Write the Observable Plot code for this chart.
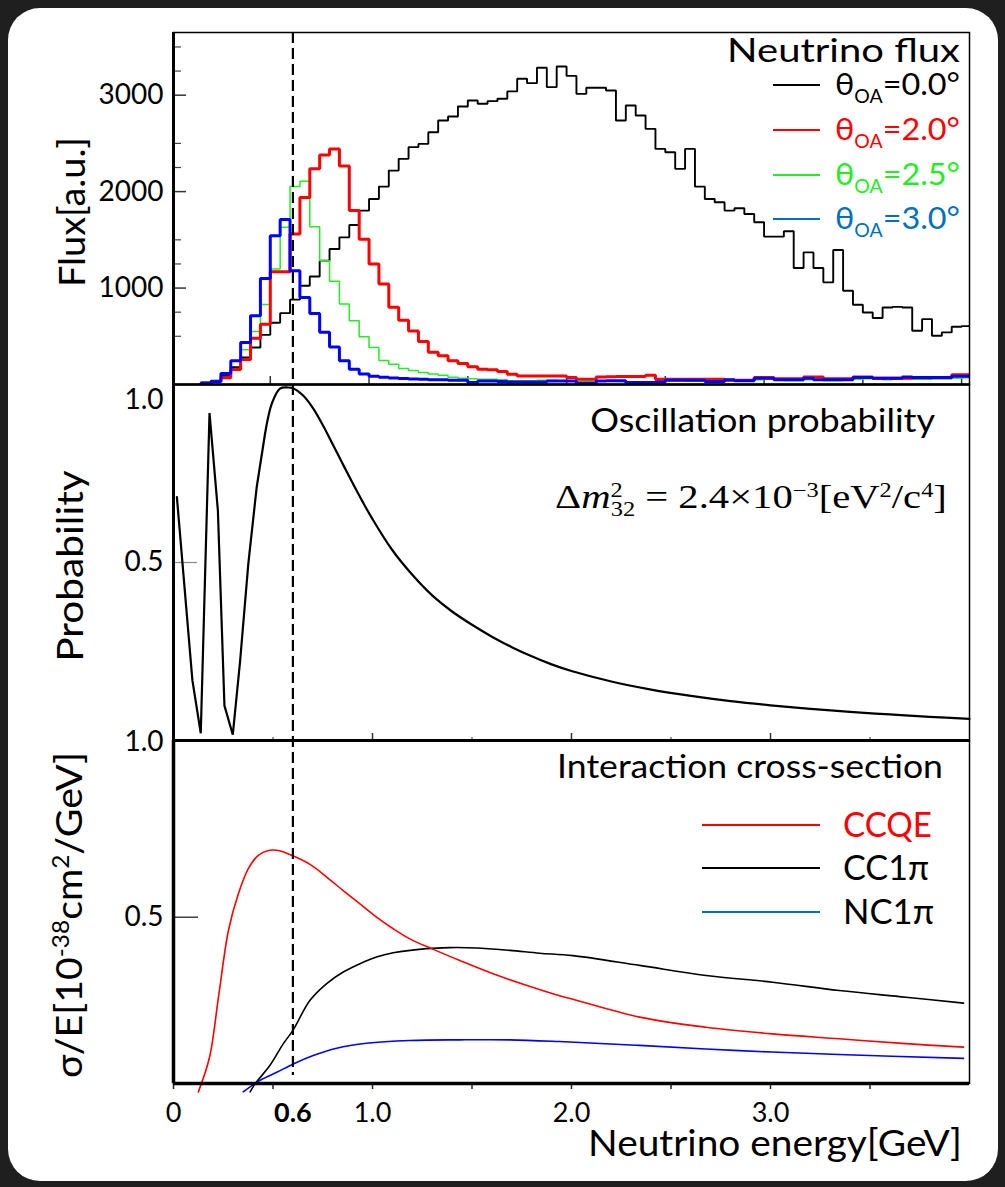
<!DOCTYPE html>
<html><head><meta charset="utf-8">
<script src="https://cdn.jsdelivr.net/npm/d3@7"></script>
<script src="https://cdn.jsdelivr.net/npm/@observablehq/plot@0.6"></script>
<style>
html,body{margin:0;padding:0;width:1005px;height:1187px;overflow:hidden;background:#1f1f1f;}
#card{position:absolute;left:8px;top:8px;width:990px;height:1173px;background:#fff;border-radius:32px;}
#stage{position:absolute;left:0;top:0;width:1005px;height:1187px;}
#stage svg{position:absolute;left:0;top:0;}
</style></head><body>
<div id="card"></div>
<div id="stage"></div>
<script>
// ================= DATA =================
// Top panel: neutrino flux histograms, bins of 0.05 GeV starting at 0.15 GeV
const binWidth = 0.05;
const binStart = 0.15;
const fluxTheta00 = [20,40,90,180,280,384,515, 640,740,880,1024,1120,1284,1405,1526,1654,1803, 1924,2052,2218,2340,2461,2495,2616,2738,2779,2883, 2945,2911,2938,2963,3039,3170,3125,3284,3084,3298, 3200,3014,3077,3077,3049,2738,2893,2789,2651,2443, 2409,2236,2443,2052,1924,1890,1803,1827,1768,1682, 1533,1533,1589,1208,1370,1208,1059,1395,972,827, 747,689,799,805,799,557,678,505,540,599,605];
const fluxTheta20 = [10,30,70,155,260,480,626, 1170,1170,1560,1940,2236,2380,2443,2265,1803,1505, 1249,1042,800,665,556,445,335,297,245,217, 183,158,152,134,107,89,89,89,89,89, 72,55,55,79,80,83,83,83,97,55, 55,55,55,55,55,55,45,45,45,72, 72,60,60,60,79,79,60,60,60,79, 79,65,65,65,65,70,70,70,70,100,100];
const fluxTheta25 = [12,35,107,246,360,550,830, 1197,1630,2052,2108,1637,1284,1070,834,661,495, 383,250,210,165,145,125,110,95,75,65, 60,55,55,50,40,40,40,45,45,40, 40,30,30,40,35,30,25,20,25,30, 40,40,35,35,30,35,40,35,35,50, 55,45,40,40,50,45,40,40,45,55, 60,55,50,55,60,55,55,60,60,65,70];
const fluxTheta30 = [14,32,114,245,435,712,1100, 1543,1710,1180,903,735,543,390,245,158,110, 85,75,68,62,58,55,50,48,44,44, 20,37,37,30,27,27,27,27,37,37, 37,13,13,37,38,38,20,20,20,27, 45,45,45,45,31,31,48,38,38,65, 65,48,48,48,65,48,48,48,48,72, 72,65,65,65,79,72,72,72,72,85,85];
const offAxisAngles = ["0.0", "2.0", "2.5", "3.0"];
const fluxLabelTicks = [1000, 2000, 3000];
const fluxMinorTicks = [500, 750, 1250, 1500, 2250, 2500, 3250, 3500];

// Middle panel: oscillation probability
const probEnergy = [0.017,0.095,0.137,0.181,0.223,0.256,0.298,0.335,0.376,0.418,0.46,0.494,0.535,0.577,0.6,0.65,0.7,0.75,0.8,0.85,0.9,0.95,1.0,1.1,1.2,1.3,1.4,1.5,1.6,1.7,1.8,1.9,2.0,2.2,2.4,2.6,2.8,3.0,3.2,3.4,3.6,3.8,4.0];
const probValue  = [0.687,0.163,0.012,0.927,0.649,0.091,0.008,0.22,0.497,0.715,0.868,0.954,0.997,1.0,0.998,0.978,0.942,0.893,0.838,0.782,0.727,0.674,0.624,0.535,0.465,0.406,0.36,0.322,0.288,0.258,0.232,0.209,0.19,0.16,0.137,0.119,0.104,0.092,0.082,0.073,0.066,0.059,0.053];
const probLabelTicks = [0.5];
const probTopLabel = [1.0];

// Bottom panel: interaction cross-sections
const ccqeEnergy = [0.125,0.181,0.226,0.276,0.326,0.376,0.426,0.477,0.527,0.594,0.686,0.77,0.853,0.937,1.02,1.104,1.188,1.297,1.439,1.606,1.773,1.94,2.007,2.342,2.676,3.01,3.345,3.68,3.97];
const ccqeXsec   = [0.0,0.099,0.271,0.462,0.567,0.639,0.677,0.691,0.691,0.677,0.651,0.615,0.576,0.538,0.5,0.467,0.438,0.41,0.376,0.338,0.305,0.275,0.265,0.214,0.185,0.166,0.152,0.138,0.128];
const cc1piEnergy = [0.385,0.41,0.485,0.552,0.6,0.686,0.77,0.853,0.937,1.02,1.104,1.271,1.388,1.522,1.69,1.84,2.007,2.342,2.676,3.01,3.345,3.68,3.97];
const cc1piXsec   = [0.0,0.023,0.076,0.138,0.176,0.262,0.31,0.343,0.367,0.386,0.398,0.41,0.413,0.412,0.405,0.397,0.39,0.362,0.333,0.314,0.29,0.271,0.254];
const nc1piEnergy = [0.35,0.435,0.519,0.602,0.702,0.82,0.97,1.188,1.439,1.69,1.94,2.342,2.843,3.345,3.97];
const nc1piXsec   = [0.0,0.033,0.056,0.08,0.104,0.125,0.139,0.147,0.149,0.149,0.144,0.133,0.118,0.107,0.096];
const xsecNames = ["CCQE", "CC1π", "NC1π"];
const xsecLabelTicks = [0.5, 1.0];

// Shared energy axis
const energyLabelTicks = [0, 1, 2, 3];
const energyTicks = [0, 0.5, 1, 1.5, 2, 2.5, 3, 3.5];
const markedEnergy = 0.6;

// ================= LAYOUT / STYLE =================
const W = 1005, H = 1187, ML = 173, MR = 36, PW = W - ML - MR;
const LATO = "Lato, 'Open Sans', sans-serif";
const SERIF = "'Liberation Serif', 'DejaVu Serif', serif";
const baseStyle = {background: "transparent", fontFamily: LATO, fontSize: "28px", color: "#000", overflow: "visible"};
const stage = document.getElementById("stage");

function stepRows(values) {
  const rows = values.map((v, i) => ({E: binStart + i * binWidth, flux: v}));
  rows.push({E: binStart + values.length * binWidth, flux: values[values.length - 1]});
  return rows;
}
const zipRows = (xs, ys) => xs.map((x, i) => ({E: x, v: ys[i]}));

// ---------- top panel ----------
const topTop = 32, topBottom = 384, topH = topBottom - topTop;
const topXDomain = [0.01, 4.04];
const histStyle = [
  {vals: fluxTheta00, stroke: "#000000", w: 1.9},
  {vals: fluxTheta25, stroke: "#22ee22", w: 1.5},
  {vals: fluxTheta20, stroke: "#ff0000", w: 3},
  {vals: fluxTheta30, stroke: "#0000ff", w: 3}
];
stage.append(Plot.plot({
  width: W, height: H, marginLeft: ML, marginRight: MR, marginTop: topTop, marginBottom: H - topBottom,
  x: {domain: topXDomain, axis: null},
  y: {domain: [0, 3650]},
  style: baseStyle,
  marks: [
    Plot.tickY(fluxMinorTicks, {y: d => d, insetRight: PW - 8, stroke: "#444", strokeWidth: 1.2}),
    Plot.tickY(fluxLabelTicks, {y: d => d, insetRight: PW - 13, stroke: "#333", strokeWidth: 1.5}),
    Plot.axisY({ticks: fluxLabelTicks, tickSize: 0, tickPadding: 10, tickFormat: d => String(d), fontSize: 28, label: null}),
    Plot.tickX(energyTicks.slice(1).concat([4]), {x: d => d, insetTop: topH - 8, stroke: "#333", strokeWidth: 1.5}),
    ...histStyle.map(s => Plot.line(stepRows(s.vals), {x: "E", y: "flux", curve: "step-after", stroke: s.stroke, strokeWidth: s.w, strokeLinejoin: "miter", clip: true})),
    Plot.frame({stroke: "#000", strokeWidth: 1.5}),
    Plot.ruleX([topXDomain[0]], {stroke: "#000", strokeWidth: 3}),
    Plot.ruleY([0], {stroke: "#000", strokeWidth: 2.5})
  ]
}));

// ---------- middle panel ----------
const midTop = 384, midBottom = 740, midH = midBottom - midTop;
const probRows = zipRows(probEnergy, probValue);
const smoothFrom = 0.46;
stage.append(Plot.plot({
  width: W, height: H, marginLeft: ML, marginRight: MR, marginTop: midTop, marginBottom: H - midBottom,
  x: {domain: [0, 4], axis: null},
  y: {domain: [-0.0086, 1.0086]},
  style: baseStyle,
  marks: [
    Plot.tickY(probLabelTicks, {y: d => d, insetRight: PW - 24, stroke: "#888", strokeWidth: 1.2}),
    Plot.axisY({ticks: probLabelTicks, tickSize: 0, tickPadding: 10, tickFormat: d => d.toFixed(1), fontSize: 28, label: null}),
    Plot.axisY({ticks: probTopLabel, tickSize: 0, tickPadding: 10, tickFormat: d => d.toFixed(1), fontSize: 28, dy: 13, label: null}),
    Plot.tickX(energyTicks.filter(d => d % 1 !== 0), {x: d => d, insetTop: midH - 3, stroke: "#555", strokeWidth: 1.2}),
    Plot.tickX(energyTicks.filter(d => d % 1 === 0 && d > 0), {x: d => d, insetTop: midH - 7, stroke: "#333", strokeWidth: 1.5}),
    Plot.line(probRows.filter(d => d.E <= smoothFrom), {x: "E", y: "v", stroke: "#000", strokeWidth: 2.2, strokeLinejoin: "miter"}),
    Plot.line(probRows.filter(d => d.E >= smoothFrom), {x: "E", y: "v", stroke: "#000", strokeWidth: 2.2, curve: "catmull-rom"}),
    Plot.frame({stroke: "#000", strokeWidth: 1.5}),
    Plot.ruleX([0], {stroke: "#000", strokeWidth: 3}),
    Plot.ruleY([-0.0086], {stroke: "#000", strokeWidth: 3})
  ]
}));

// ---------- bottom panel ----------
const botTop = 740, botBottom = 1083;
const botYDomain = [0.024, 1.0057];
stage.append(Plot.plot({
  width: W, height: H, marginLeft: ML, marginRight: MR, marginTop: botTop, marginBottom: H - botBottom,
  x: {domain: [0, 4]},
  y: {domain: botYDomain},
  style: baseStyle,
  marks: [
    Plot.tickY([0.5], {y: d => d, insetRight: PW - 25, stroke: "#222", strokeWidth: 1.3}),
    Plot.axisY({ticks: xsecLabelTicks, tickSize: 0, tickPadding: 10, tickFormat: d => d.toFixed(1), fontSize: 28, label: null}),
    Plot.axisX({ticks: energyTicks, tickSize: 6, fill: "none", stroke: "#222", strokeWidth: 1.5, label: null}),
    Plot.axisX({ticks: energyLabelTicks, tickSize: 0, tickPadding: 19, fontSize: 27, tickFormat: d => d === 0 ? "0" : d.toFixed(1), label: null}),
    Plot.axisX({ticks: [markedEnergy], tickSize: 0, tickPadding: 19, fontSize: 27, fontWeight: "bold", tickFormat: d => d.toFixed(1), label: null}),
    Plot.line(zipRows(cc1piEnergy, cc1piXsec), {x: "E", y: "v", stroke: "#000", strokeWidth: 1.6, curve: "catmull-rom"}),
    Plot.line(zipRows(nc1piEnergy, nc1piXsec), {x: "E", y: "v", stroke: "#0000ff", strokeWidth: 1.6, curve: "catmull-rom"}),
    Plot.line(zipRows(ccqeEnergy, ccqeXsec), {x: "E", y: "v", stroke: "#ff0000", strokeWidth: 1.6, curve: "catmull-rom"}),
    Plot.frame({stroke: "#000", strokeWidth: 1.5}),
    Plot.ruleX([0], {stroke: "#000", strokeWidth: 3.5}),
    Plot.ruleY([botYDomain[0]], {stroke: "#000", strokeWidth: 3.5})
  ]
}));

// ---------- dashed marker across the panels ----------
stage.append(Plot.plot({
  width: W, height: H, marginLeft: ML, marginRight: MR, marginTop: 32, marginBottom: H - 1075,
  x: {domain: [0, 4], axis: null},
  style: baseStyle,
  marks: [Plot.ruleX([markedEnergy], {stroke: "#000", strokeWidth: 2.2, strokeDasharray: "11,5"})]
}));

// ---------- annotations & legends ----------
const ov = d3.select("#stage").append("svg").attr("width", W).attr("height", H).style("overflow", "visible");
function place(x, y, parts, {size, fill = "#000", anchor = "start", family = LATO, width = null, rotate = false}) {
  const t = ov.append("text").attr("font-family", family).attr("font-size", size).attr("fill", fill).attr("text-anchor", anchor);
  for (const p of parts) {
    const q = typeof p === "string" ? {t: p} : p;
    const s = t.append("tspan").text(q.t);
    if (q.shift != null) s.attr("baseline-shift", q.shift);
    if (q.scale) s.attr("font-size", size * q.scale);
    if (q.italic) s.attr("font-style", "italic");
    if (q.dx) s.attr("dx", q.dx);
  }
  let sx = 1;
  if (width) { const bw = t.node().getBBox().width; if (bw > 0) sx = width / bw; }
  t.attr("transform", `translate(${x},${y})${rotate ? " rotate(-90)" : ""} scale(${sx},1)`);
  return t;
}
function swatch(x1, x2, y, color, w) {
  ov.append("line").attr("x1", x1).attr("x2", x2).attr("y1", y).attr("y2", y).attr("stroke", color).attr("stroke-width", w);
}

place(960, 62, ["Neutrino flux"], {size: 32, anchor: "end", width: 233});
const thetaLegendColors = ["#000000", "#ff0000", "#22ee22", "#0070c0"];
const thetaBaselines = [95, 140, 185, 229];
offAxisAngles.forEach((a, i) => {
  swatch(773, 820, thetaBaselines[i] - 10, thetaLegendColors[i], 2);
  place(835, thetaBaselines[i], ["θ", {t: "OA", shift: -8, scale: 0.6}, "=" + a + "°"], {size: 31, fill: thetaLegendColors[i], width: 125});
});

place(935, 432, ["Oscillation probability"], {size: 33, anchor: "end", width: 345});
place(555, 508, ["Δ", {t: "m", italic: true}, {t: "2", shift: "super", scale: 0.6}, {t: "32", shift: -8, scale: 0.6, dx: -10},
  " = 2.4×10", {t: "−3", shift: "super", scale: 0.6}, "[eV", {t: "2", shift: "super", scale: 0.6}, "/c", {t: "4", shift: "super", scale: 0.6}, "]"],
  {size: 34, family: SERIF, width: 392});

place(943, 778, ["Interaction cross-section"], {size: 32, anchor: "end", width: 386});
const xsecLegendLine = ["#ff0000", "#000000", "#0070c0"];
const xsecLegendText = ["#ff0000", "#000000", "#000000"];
const xsecLegendY = [825, 868, 912];
const xsecLegendW = [89, 86, 91];
xsecNames.forEach((n, i) => {
  swatch(702, 820, xsecLegendY[i], xsecLegendLine[i], 1.8);
  place(843, xsecLegendY[i] + 12, [n], {size: 34, fill: xsecLegendText[i], width: xsecLegendW[i]});
});

place(85, 212, ["Flux[a.u.]"], {size: 36, anchor: "middle", rotate: true, width: 150});
place(83, 566, ["Probability"], {size: 36, anchor: "middle", rotate: true, width: 192});
place(82, 915, ["σ/E[10", {t: "-38", shift: "super", scale: 0.62}, "cm", {t: "2", shift: "super", scale: 0.62}, "/GeV]"], {size: 36, anchor: "middle", rotate: true, width: 326});
place(962, 1156, ["Neutrino energy[GeV]"], {size: 37, anchor: "end", width: 374});
</script></body></html>
